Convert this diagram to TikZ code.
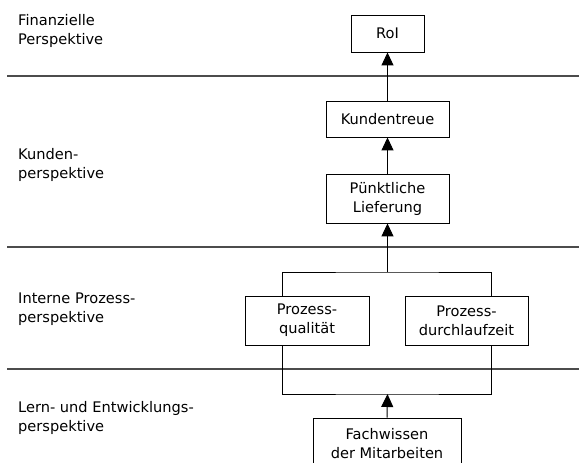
\documentclass[tikz,border=0pt]{standalone}
\usepackage{fontspec}
\setmainfont{DejaVu Sans}
\usetikzlibrary{arrows.meta}
\begin{document}
\begin{tikzpicture}[x=1pt,y=-1pt,
  every node/.style={font=\fontsize{14.6}{19}\selectfont},
  box/.style={draw,line width=0.9pt,align=center,inner sep=0pt},
  lbl/.style={anchor=west,align=left,inner sep=0pt},
  sep/.style={draw=black!70,line width=1.6pt},
  conn/.style={line width=1pt},
  arr/.style={conn,-{Triangle[width=12pt,length=13pt]}}]
\useasboundingbox (0,0) rectangle (579,463);
% separators
\coordinate (s1l) at (7,76); \coordinate (s1r) at (579,76);
\coordinate (s2l) at (7,247); \coordinate (s2r) at (579,247);
\coordinate (s3l) at (7,369); \coordinate (s3r) at (579,369);
\draw[sep] (s1l) -- (s1r);
\draw[sep] (s2l) -- (s2r);
\draw[sep] (s3l) -- (s3r);
% labels
\node[lbl] (l1) at (18,31) {Finanzielle\\Perspektive};
\node[lbl] (l2) at (18,164.5) {Kunden-\\perspektive};
\node[lbl] (l3) at (18,309) {Interne Prozess-\\perspektive};
\node[lbl] (l4) at (18,417.5) {Lern- und Entwicklungs-\\perspektive};
% boxes
\node[box,minimum width=73pt,minimum height=37pt] (roi) at (387.5,33.5) {RoI};
\node[box,minimum width=123pt,minimum height=36pt] (kt) at (387.5,119) {Kundentreue};
\node[box,minimum width=123pt,minimum height=49pt] (pl) at (387.5,198.5) {Pünktliche\\Lieferung};
\node[box,minimum width=124pt,minimum height=49pt] (pq) at (307,320.5) {Prozess-\\qualität};
\node[box,minimum width=123pt,minimum height=49pt] (pd) at (466.5,320.5) {Prozess-\\durchlaufzeit};
\node[box,minimum width=148pt,minimum height=60pt,text depth=0pt] (fw) at (387,448) {};
\node[align=center,inner sep=0pt] (fwt) at (387,444) {Fachwissen\\der Mitarbeiten};
% brackets
\coordinate (bt) at (387.5,272);
\coordinate (bb) at (387.5,394);
\draw[conn] (pq.north -| 282,0) |- (bt) -| (pd.north -| 491,0);
\draw[conn] (pq.south -| 282,0) |- (bb) -| (pd.south -| 491,0);
% arrows
\draw[arr] (bt) -- (pl.south);
\draw[arr] (pl.north) -- (kt.south);
\draw[arr] (kt.north) -- (roi.south);
\draw[arr] (fw.north) -- (bb);
\end{tikzpicture}
\end{document}
